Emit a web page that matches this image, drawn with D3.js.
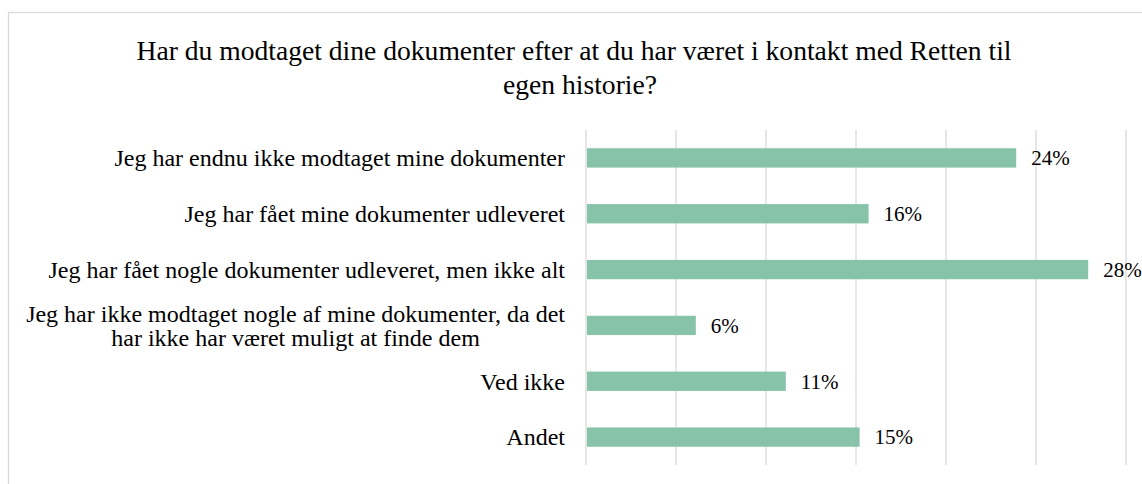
<!DOCTYPE html>
<html>
<head>
<meta charset="utf-8">
<script src="https://cdn.jsdelivr.net/npm/d3@7"></script>
<style>
  html, body { margin: 0; padding: 0; background: #fff; }
  svg { display: block; }
</style>
</head>
<body>
<svg id="chart" width="1142" height="484"></svg>
<script>
const titleLines = ["Har du modtaget dine dokumenter efter at du har været i kontakt med Retten til", "egen historie?"];
const categories = [
  ["Jeg har endnu ikke modtaget mine dokumenter"],
  ["Jeg har fået mine dokumenter udleveret"],
  ["Jeg har fået nogle dokumenter udleveret, men ikke alt"],
  ["Jeg har ikke modtaget nogle af mine dokumenter, da det", "har ikke har været muligt at finde dem"],
  ["Ved ikke"],
  ["Andet"]
];
const values = [0.239, 0.157, 0.279, 0.061, 0.111, 0.152];
const valueLabels = ["24%", "16%", "28%", "6%", "11%", "15%"];
const tickValues = [0, 0.05, 0.10, 0.15, 0.20, 0.25, 0.30];

const FONT = "Liberation Serif";
const svg = d3.select("#chart");

// chart border
svg.append("rect")
  .attr("x", 8.5).attr("y", 12.5)
  .attr("width", 1150).attr("height", 500)
  .attr("fill", "none").attr("stroke", "#d9d9d9").attr("stroke-width", 1.3);

const x = d3.scaleLinear().domain([0, 0.30]).range([586, 1126]);
const idx = categories.map((d, i) => i);
const y = d3.scaleBand().domain(idx).range([130, 465]).paddingInner(0.654).paddingOuter(0.327);

// gridlines
svg.append("g").selectAll("line").data(tickValues).join("line")
  .attr("x1", d => x(d)).attr("x2", d => x(d))
  .attr("y1", 130).attr("y2", 465)
  .attr("stroke", "#d9d9d9").attr("stroke-width", 1.3);

// bars
svg.append("g").selectAll("rect").data(values).join("rect")
  .attr("x", x(0) + 1)
  .attr("y", (d, i) => y(i))
  .attr("width", d => x(d) - x(0) - 1)
  .attr("height", y.bandwidth())
  .attr("fill", "#87c3a8");

// value labels
svg.append("g").selectAll("text").data(values).join("text")
  .style("font-family", FONT)
  .style("font-size", "21px")
  .attr("x", d => x(d) + 15)
  .attr("y", (d, i) => y(i) + y.bandwidth() / 2)
  .attr("dy", "0.35em")
  .text((d, i) => valueLabels[i]);

// category labels
const labelSize = 24;
const lineH = 23.5;
const labelRight = 565;
categories.forEach((lines, i) => {
  const cy = y(i) + y.bandwidth() / 2;
  const t = svg.append("text").style("font-family", FONT).style("font-size", labelSize + "px").attr("text-anchor", "middle");
  const spans = lines.map((ln, j) => t.append("tspan")
    .attr("y", cy + (j - (lines.length - 1) / 2) * lineH)
    .attr("dy", "0.35em")
    .text(ln));
  let maxW = 0;
  spans.forEach(s => { maxW = Math.max(maxW, s.node().getComputedTextLength()); });
  spans.forEach(s => s.attr("x", labelRight - maxW / 2));
});

// title
const titleX = [574, 580];
const title = svg.append("text").style("font-family", FONT).style("font-size", "27.6px").attr("text-anchor", "middle");
titleLines.forEach((ln, j) => {
  title.append("tspan").attr("x", titleX[j]).attr("y", 59.5 + j * 34).text(ln);
});
</script>
</body>
</html>
